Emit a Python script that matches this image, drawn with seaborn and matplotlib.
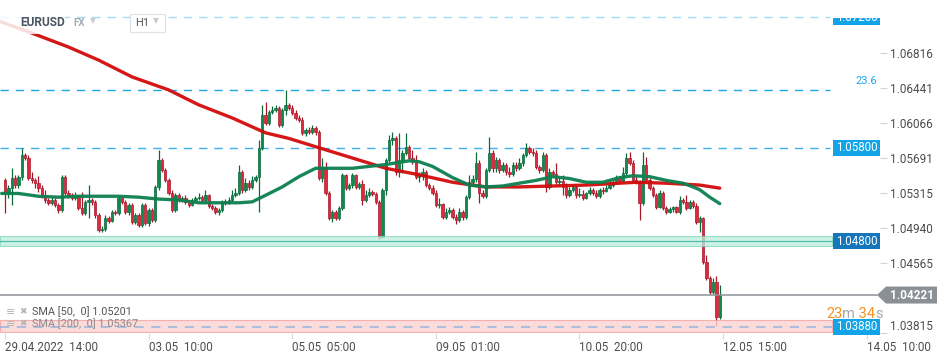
import matplotlib
matplotlib.use('Agg')
import matplotlib.pyplot as plt
import matplotlib.transforms as mtransforms
from matplotlib.patches import Rectangle, Polygon
import numpy as np
import seaborn as sns

sns.set_theme(style='white')
plt.rcParams['font.family'] = ['Roboto', 'DejaVu Sans']

# EURUSD H1 candles, index 0 = 29.04.2022 14:00 (open of a bar = previous close)
first_open = 1.0545
closes = [1.0531, 1.0537, 1.0548, 1.0540, 1.0549, 1.0572, 1.0569, 1.0548, 1.0545, 1.0542,
          1.0537, 1.0529, 1.0524, 1.0521, 1.0524, 1.0519, 1.0513, 1.0549, 1.0531, 1.0529,
          1.0526, 1.0528, 1.0515, 1.0510, 1.0522, 1.0524, 1.0522, 1.0508, 1.0492, 1.0493,
          1.0505, 1.0502, 1.0511, 1.0510, 1.0526, 1.0522, 1.0511, 1.0519, 1.0500, 1.0508,
          1.0497, 1.0519, 1.0499, 1.0513, 1.0503, 1.0538, 1.0567, 1.0556, 1.0545, 1.0531,
          1.0513, 1.0529, 1.0524, 1.0526, 1.0522, 1.0519, 1.0524, 1.0526, 1.0527, 1.0524,
          1.0529, 1.0518, 1.0515, 1.0511, 1.0513, 1.0522, 1.0521, 1.0524, 1.0529, 1.0531,
          1.0554, 1.0535, 1.0542, 1.0538, 1.0545, 1.0549, 1.0580, 1.0615, 1.0607, 1.0618,
          1.0620, 1.0623, 1.0604, 1.0620, 1.0626, 1.0623, 1.0617, 1.0612, 1.0610, 1.0596,
          1.0599, 1.0597, 1.0601, 1.0597, 1.0548, 1.0559, 1.0531, 1.0505, 1.0511, 1.0505,
          1.0515, 1.0551, 1.0537, 1.0540, 1.0551, 1.0538, 1.0541, 1.0524, 1.0529, 1.0533,
          1.0530, 1.0522, 1.0484, 1.0535, 1.0567, 1.0588, 1.0590, 1.0554, 1.0567, 1.0574,
          1.0581, 1.0569, 1.0566, 1.0549, 1.0550, 1.0554, 1.0540, 1.0537, 1.0531, 1.0519,
          1.0520, 1.0506, 1.0511, 1.0513, 1.0506, 1.0503, 1.0511, 1.0506, 1.0527, 1.0543,
          1.0547, 1.0564, 1.0531, 1.0528, 1.0556, 1.0574, 1.0558, 1.0567, 1.0556, 1.0562,
          1.0554, 1.0552, 1.0562, 1.0558, 1.0564, 1.0572, 1.0580, 1.0575, 1.0574, 1.0559,
          1.0556, 1.0572, 1.0538, 1.0554, 1.0552, 1.0543, 1.0544, 1.0538, 1.0529, 1.0535,
          1.0538, 1.0529, 1.0530, 1.0526, 1.0531, 1.0535, 1.0531, 1.0528, 1.0535, 1.0534,
          1.0537, 1.0540, 1.0543, 1.0548, 1.0544, 1.0553, 1.0569, 1.0564, 1.0545, 1.0543,
          1.0521, 1.0562, 1.0545, 1.0537, 1.0529, 1.0517, 1.0531, 1.0515, 1.0511, 1.0514,
          1.0517, 1.0511, 1.0524, 1.0522, 1.0515, 1.0522, 1.0518, 1.0500, 1.0505, 1.0458,
          1.0440, 1.0425, 1.0436, 1.0399, 1.04221]
highs = [1.0548, 1.0540, 1.0558, 1.0551, 1.0551, 1.0580, 1.0574, 1.0572, 1.0554, 1.0548,
         1.0550, 1.0540, 1.0535, 1.0526, 1.0527, 1.0526, 1.0521, 1.0551, 1.0551, 1.0535,
         1.0531, 1.0533, 1.0529, 1.0533, 1.0524, 1.0540, 1.0526, 1.0524, 1.0510, 1.0496,
         1.0508, 1.0507, 1.0513, 1.0513, 1.0528, 1.0528, 1.0524, 1.0521, 1.0521, 1.0510,
         1.0510, 1.0521, 1.0521, 1.0515, 1.0515, 1.0540, 1.0578, 1.0569, 1.0558, 1.0548,
         1.0535, 1.0531, 1.0531, 1.0528, 1.0529, 1.0524, 1.0526, 1.0528, 1.0531, 1.0529,
         1.0535, 1.0530, 1.0520, 1.0518, 1.0515, 1.0524, 1.0525, 1.0527, 1.0535, 1.0537,
         1.0562, 1.0556, 1.0548, 1.0545, 1.0550, 1.0551, 1.0588, 1.0626, 1.0629, 1.0620,
         1.0625, 1.0626, 1.0625, 1.0623, 1.0642, 1.0628, 1.0626, 1.0620, 1.0615, 1.0613,
         1.0601, 1.0602, 1.0604, 1.0603, 1.0599, 1.0569, 1.0565, 1.0534, 1.0513, 1.0513,
         1.0518, 1.0553, 1.0552, 1.0542, 1.0553, 1.0552, 1.0543, 1.0545, 1.0535, 1.0537,
         1.0535, 1.0533, 1.0524, 1.0537, 1.0569, 1.0594, 1.0597, 1.0593, 1.0596, 1.0578,
         1.0596, 1.0583, 1.0578, 1.0572, 1.0554, 1.0558, 1.0556, 1.0542, 1.0540, 1.0535,
         1.0526, 1.0521, 1.0515, 1.0517, 1.0515, 1.0509, 1.0515, 1.0513, 1.0529, 1.0551,
         1.0551, 1.0575, 1.0567, 1.0535, 1.0558, 1.0592, 1.0578, 1.0570, 1.0569, 1.0565,
         1.0564, 1.0559, 1.0565, 1.0565, 1.0569, 1.0574, 1.0585, 1.0582, 1.0580, 1.0578,
         1.0562, 1.0575, 1.0574, 1.0558, 1.0556, 1.0564, 1.0548, 1.0551, 1.0542, 1.0538,
         1.0541, 1.0540, 1.0537, 1.0535, 1.0533, 1.0538, 1.0537, 1.0535, 1.0537, 1.0538,
         1.0540, 1.0545, 1.0548, 1.0551, 1.0550, 1.0559, 1.0574, 1.0575, 1.0567, 1.0550,
         1.0545, 1.0575, 1.0570, 1.0548, 1.0539, 1.0531, 1.0535, 1.0534, 1.0518, 1.0516,
         1.0518, 1.0518, 1.0528, 1.0526, 1.0529, 1.0524, 1.0524, 1.0521, 1.0507, 1.0506,
         1.0465, 1.0442, 1.0440, 1.0442, 1.0433]
lows = [1.0510, 1.0526, 1.0519, 1.0537, 1.0537, 1.0545, 1.0567, 1.0545, 1.0542, 1.0537,
        1.0533, 1.0526, 1.0521, 1.0519, 1.0519, 1.0517, 1.0510, 1.0511, 1.0529, 1.0526,
        1.0524, 1.0524, 1.0513, 1.0508, 1.0508, 1.0505, 1.0519, 1.0505, 1.0490, 1.0490,
        1.0491, 1.0499, 1.0500, 1.0508, 1.0508, 1.0520, 1.0509, 1.0508, 1.0498, 1.0498,
        1.0495, 1.0495, 1.0497, 1.0496, 1.0500, 1.0500, 1.0535, 1.0554, 1.0543, 1.0529,
        1.0511, 1.0511, 1.0522, 1.0522, 1.0520, 1.0517, 1.0518, 1.0523, 1.0524, 1.0522,
        1.0521, 1.0515, 1.0513, 1.0509, 1.0508, 1.0511, 1.0519, 1.0520, 1.0522, 1.0527,
        1.0529, 1.0531, 1.0533, 1.0535, 1.0536, 1.0543, 1.0511, 1.0578, 1.0604, 1.0604,
        1.0616, 1.0618, 1.0602, 1.0602, 1.0615, 1.0620, 1.0615, 1.0610, 1.0608, 1.0594,
        1.0593, 1.0595, 1.0595, 1.0594, 1.0545, 1.0543, 1.0529, 1.0503, 1.0500, 1.0503,
        1.0503, 1.0513, 1.0535, 1.0535, 1.0537, 1.0536, 1.0536, 1.0519, 1.0522, 1.0527,
        1.0528, 1.0520, 1.0482, 1.0483, 1.0529, 1.0565, 1.0583, 1.0551, 1.0549, 1.0553,
        1.0572, 1.0567, 1.0563, 1.0547, 1.0543, 1.0545, 1.0538, 1.0535, 1.0529, 1.0517,
        1.0515, 1.0504, 1.0504, 1.0509, 1.0504, 1.0498, 1.0500, 1.0503, 1.0504, 1.0525,
        1.0541, 1.0543, 1.0521, 1.0526, 1.0526, 1.0554, 1.0554, 1.0554, 1.0553, 1.0554,
        1.0551, 1.0549, 1.0550, 1.0555, 1.0556, 1.0560, 1.0570, 1.0573, 1.0571, 1.0557,
        1.0553, 1.0554, 1.0533, 1.0536, 1.0549, 1.0541, 1.0540, 1.0529, 1.0526, 1.0527,
        1.0533, 1.0526, 1.0527, 1.0524, 1.0525, 1.0529, 1.0529, 1.0526, 1.0526, 1.0530,
        1.0533, 1.0536, 1.0538, 1.0541, 1.0542, 1.0543, 1.0551, 1.0562, 1.0543, 1.0541,
        1.0503, 1.0519, 1.0543, 1.0535, 1.0527, 1.0514, 1.0515, 1.0513, 1.0509, 1.0510,
        1.0511, 1.0510, 1.0509, 1.0520, 1.0513, 1.0514, 1.0515, 1.0498, 1.0490, 1.0455,
        1.0438, 1.0423, 1.0423, 1.0389, 1.0396]

# moving averages, read at candle indices
sma50_idx = [-1, 4, 10, 16, 22, 28, 34, 40, 46, 52, 58, 64, 70, 74, 78, 83, 88, 93, 97, 104,
             114, 121, 124, 128, 134, 139, 144, 149, 154, 159, 164, 169, 174, 179, 184, 188,
             193, 198, 203, 206, 208, 211, 214]
sma50 = [1.0531, 1.0531, 1.0528, 1.0527, 1.0528, 1.0528, 1.0528, 1.0527, 1.0525, 1.0524,
         1.0521, 1.0521, 1.0521, 1.0522, 1.0529, 1.0538, 1.0549, 1.0558, 1.0558, 1.0558,
         1.0562, 1.0566, 1.0565, 1.0560, 1.0548, 1.0540, 1.0538, 1.0539, 1.0542, 1.0545,
         1.0549, 1.0547, 1.0543, 1.0543, 1.0548, 1.0550, 1.0549, 1.0545, 1.0542, 1.0538,
         1.0535, 1.0527, 1.05201]
sma200_idx = [-2, 8, 19, 28, 38, 49, 58, 68, 78, 85, 94, 104, 114, 124, 134, 144, 154, 164,
              174, 184, 189, 198, 208, 214]
sma200 = [1.0716, 1.0703, 1.0688, 1.0674, 1.0656, 1.0642, 1.0626, 1.0612, 1.0596, 1.0590,
          1.0580, 1.0569, 1.0558, 1.0551, 1.0543, 1.0538, 1.0538, 1.0539, 1.0540, 1.0542,
          1.0543, 1.0542, 1.0540, 1.05367]

time_ticks = [0, 43, 86, 129, 172, 215, 258]
time_labels = ['29.04.2022  14:00', '03.05  10:00', '05.05  05:00', '09.05  01:00',
               '10.05  20:00', '12.05  15:00', '14.05  10:00']
price_ticks = [1.03815, 1.04565, 1.04940, 1.05315, 1.05691, 1.06066, 1.06441, 1.06816]

last_price = 1.04221
level_top = 1.07200
level_fib = 1.0642
level_mid = 1.05800
zone_green = (1.04747, 1.04854)
level_green = 1.04800
zone_red = (1.03825, 1.03954)
level_red = 1.03880

# ---- figure ----
fig = plt.figure(figsize=(9.49, 3.58), dpi=100)
ax = fig.add_axes([0, 25 / 358, 880 / 949, 333 / 358])
ax.set_facecolor('white')
blend = mtransforms.blended_transform_factory(ax.transAxes, ax.transData)
PX = 0.0001072  # price per pixel

idx = np.arange(len(closes))
c = np.array(closes)
o = np.array([first_open] + closes[:-1])
h = np.maximum(np.array(highs), np.maximum(o, c))
l = np.minimum(np.array(lows), np.minimum(o, c))
up = c >= o
body_col = np.where(up, '#10894f', '#e02a3b')
edge_col = np.where(up, '#0b6a3c', '#a8182a')

ax.vlines(idx, l, h, colors=edge_col, lw=0.9, zorder=2)
ax.bar(idx, np.maximum(np.abs(c - o), 0.00008), bottom=np.minimum(o, c), width=0.7,
       color=body_col, edgecolor=edge_col, linewidth=0.5, zorder=3)

sns.lineplot(x=sma200_idx, y=sma200, ax=ax, color='#d20a0a', lw=2.4, alpha=0.95,
             sort=False, estimator=None, legend=False, zorder=5)
sns.lineplot(x=sma50_idx, y=sma50, ax=ax, color='#0c8050', lw=2.4, alpha=0.95,
             sort=False, estimator=None, legend=False, zorder=5)

# levels
xend = 830 / 880
ax.axhline(level_top, xmax=xend, color='#a6dbf5', lw=1, ls=(0, (6, 5)), zorder=1)
ax.axhline(level_fib, xmax=xend, color='#1ea5ec', lw=1, ls=(0, (6, 5)), zorder=1)
ax.axhline(level_mid, xmax=xend, color='#3cb1ee', lw=1, ls=(0, (6, 5)), zorder=1)
ax.text(877 / 880, level_fib + 9 * PX, '23.6', transform=blend, ha='right', va='center',
        color='#1ea5ec', fontsize=8)

ax.axhspan(*zone_green, xmax=832 / 880, fc='#bdeedd', ec='#7dd6bd', lw=0.8, alpha=0.75, zorder=4)
ax.axhline(level_green, xmax=832 / 880, color='#4fbfae', lw=0.9, zorder=4)
ax.axhspan(*zone_red, xmax=832 / 880, fc='#fcd3d3', ec='#f2a0a0', lw=0.8, alpha=0.8, zorder=4)
ax.axhline(level_red, xmax=832 / 880, color='#95b4dc', lw=1.1, ls=(0, (6, 5)), zorder=4.5)
ax.axhline(last_price, xmax=877 / 880, color='#8d9297', lw=1.1, zorder=4)

# price boxes on the right
bh = 16 * PX
for p, txt, fc in [(level_top, '1.07200', '#12a4e9'), (level_mid, '1.05800', '#12a4e9'),
                   (level_green, '1.04800', '#1676bb'), (level_red, '1.03880', '#12a4e9')]:
    ax.add_patch(Rectangle((833 / 880, p - bh / 2), 47 / 880, bh, transform=blend,
                           fc=fc, ec='none', zorder=8, clip_on=False))
    ax.text(856.5 / 880, p, txt, transform=blend, ha='center', va='center',
            color='white', fontsize=8.3, zorder=9)
# top of the 1.07200 box is cut off by the header area
ax.add_patch(Rectangle((831 / 880, 1 - 18 / 333), 52 / 880, 18 / 333, transform=ax.transAxes,
                       fc='white', ec='none', zorder=10, clip_on=False))

gh = 17 * PX / 2
ax.add_patch(Polygon([(877 / 880, last_price), (886 / 880, last_price + gh),
                      (937 / 880, last_price + gh), (937 / 880, last_price - gh),
                      (886 / 880, last_price - gh)], closed=True, transform=blend,
                     fc='#8a9095', ec='none', zorder=9, clip_on=False))
ax.text(911.5 / 880, last_price, '1.04221', transform=blend, ha='center', va='center',
        color='white', fontsize=8.5, fontweight='bold', zorder=10, clip_on=False)

# countdown
t = ax.text(826 / 880, 1.03975, '23', transform=blend, color='#f7931e', fontsize=10.5,
            va='baseline', zorder=9)
for s, col in [('m', '#a8a8a8'), (' 34', '#f7931e'), ('s', '#a8a8a8')]:
    t = ax.annotate(s, xy=(1, 0), xycoords=t, va='bottom', color=col, fontsize=10.5, zorder=9)

# header
ax.add_patch(Rectangle((0, 1 - 34 / 333), 65 / 880, 26 / 333, transform=ax.transAxes,
                       fc='white', ec='none', alpha=0.85, zorder=6))
ty = 1 - 23 / 333
ax.text(20 / 880, ty, 'EURUSD', transform=ax.transAxes, va='center', fontsize=8.6,
        fontweight='bold', color='#4a5561', zorder=7)
ax.text(73 / 880, ty, 'FX', transform=ax.transAxes, va='center', fontsize=7,
        fontweight='bold', color='#a3adb8', zorder=7)
ax.text(90 / 880, ty + 0.006, '\u25bc', transform=ax.transAxes, va='center', fontsize=5.5,
        color='#c5cbd1', family='DejaVu Sans', zorder=7)
ax.add_patch(Rectangle((130 / 880, 1 - 32 / 333), 35 / 880, 18 / 333, transform=ax.transAxes,
                       fc='white', ec='#dfe3e8', lw=0.9, zorder=6))
ax.text(135 / 880, ty, 'H1', transform=ax.transAxes, va='center', fontsize=8,
        color='#555555', zorder=7)
ax.text(153 / 880, ty + 0.006, '\u25bc', transform=ax.transAxes, va='center', fontsize=5.5,
        color='#c5cbd1', family='DejaVu Sans', zorder=7)

# indicator legend
for py, txt, col in [(312, 'SMA [50,  0] 1.05201', '#555555'),
                     (324, 'SMA [200,  0] 1.05367', '#8c8c8c')]:
    yy = 1 - py / 333
    ax.text(6 / 880, yy, '\u2261', transform=ax.transAxes, va='center', fontsize=8,
            color='#b5b5b5', family='DejaVu Sans', zorder=7)
    ax.text(19 / 880, yy, '\u2716', transform=ax.transAxes, va='center', fontsize=6.5,
            color='#b5b5b5', family='DejaVu Sans', zorder=7)
    ax.text(32 / 880, yy, txt, transform=ax.transAxes, va='center', fontsize=7.8,
            color=col, zorder=7)

# axes
ax.set_xlim(-5 / 3.34, 875 / 3.34)
ax.set_ylim(1.03814, 1.07384)
for sp in ax.spines.values():
    sp.set_visible(False)
ax.yaxis.tick_right()
ax.set_yticks(price_ticks, [f'{p:.5f}' for p in price_ticks])
ax.tick_params(axis='y', right=True, left=False, length=5, width=0.8, color='#d0d4d8',
               pad=2, labelsize=8.5, labelcolor='#4d4d4d')
ax.get_yticklabels()[0].set_va('bottom')
ax.set_xticks(time_ticks, time_labels)
for lab in ax.get_xticklabels():
    lab.set_ha('left')
ax.tick_params(axis='x', bottom=True, length=4, width=0.8, color='#dadada', pad=2,
               labelsize=8.4, labelcolor='#4d4d4d')
ax.set_xlabel('')
ax.set_ylabel('')
ax.grid(False)

fig.savefig('out.png', dpi=100)
